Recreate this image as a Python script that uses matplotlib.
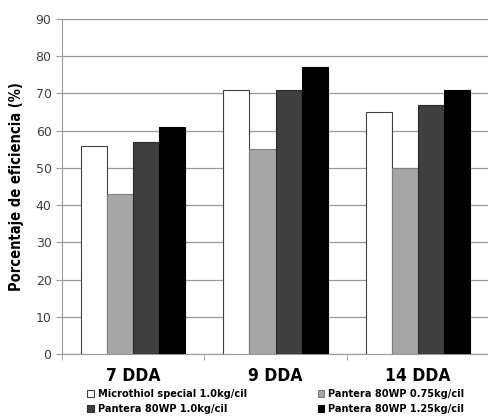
import numpy as np
import matplotlib.pyplot as plt

plt.rcParams['font.family'] = ['Liberation Sans Narrow', 'DejaVu Sans']

categories = ['7 DDA', '9 DDA', '14 DDA']
series = ['Microthiol special 1.0kg/cil', 'Pantera 80WP 0.75kg/cil',
          'Pantera 80WP 1.0kg/cil', 'Pantera 80WP 1.25kg/cil']
values = [
    [56, 71, 65],
    [43, 55, 50],
    [57, 71, 67],
    [61, 77, 71],
]
colors = ['#ffffff', '#a6a6a6', '#3f3f3f', '#000000']
edges = ['#404040', '#7f7f7f', '#2a2a2a', '#000000']

fig = plt.figure(figsize=(4.89, 4.18), dpi=100)
ax = fig.add_axes([0.1268, 0.1531, 0.8732, 0.8014])

x = np.arange(len(categories))
w = 0.183
handles = []
for i, (s, v) in enumerate(zip(series, values)):
    bars = ax.bar(x + (i - 1.5) * w, v, w, color=colors[i], edgecolor=edges[i],
                  linewidth=0.8, zorder=3, label=s)
    handles.append(bars)

ax.set_xlim(-0.5, 2.5)
ax.set_ylim(0, 90)
ax.set_yticks(range(0, 91, 10))
ax.yaxis.grid(True, color='#999999', linewidth=0.9, zorder=0)
ax.tick_params(axis='y', labelsize=9, labelcolor='#404040', color='#999999',
               length=4, direction='out')
ax.set_xticks(x)
ax.set_xticklabels(categories, fontsize=12.5, fontweight='bold',
                   fontstretch='condensed')
ax.set_xticks([-0.5, 0.5, 1.5, 2.5], minor=True)
ax.tick_params(axis='x', which='major', length=0, pad=9)
ax.tick_params(axis='x', which='minor', length=4, color='#999999')
for sp in ['top', 'right']:
    ax.spines[sp].set_visible(False)
ax.spines['left'].set_color('#999999')
ax.spines['bottom'].set_color('#999999')
ax.set_ylabel('Porcentaje de eficiencia (%)', fontsize=10.5, fontweight='bold',
              fontstretch='condensed', labelpad=8)

order = [0, 2, 1, 3]
fig.legend([handles[i] for i in order], [series[i] for i in order], ncol=2,
           loc='lower left', bbox_to_anchor=(0.165, -0.006), frameon=False,
           prop={'size': 7.8, 'weight': 'bold', 'stretch': 'condensed'},
           handlelength=0.6, handleheight=0.6, handletextpad=0.4,
           columnspacing=6.5, labelspacing=0.45, borderpad=0.1)

fig.savefig('out.png', dpi=100)
